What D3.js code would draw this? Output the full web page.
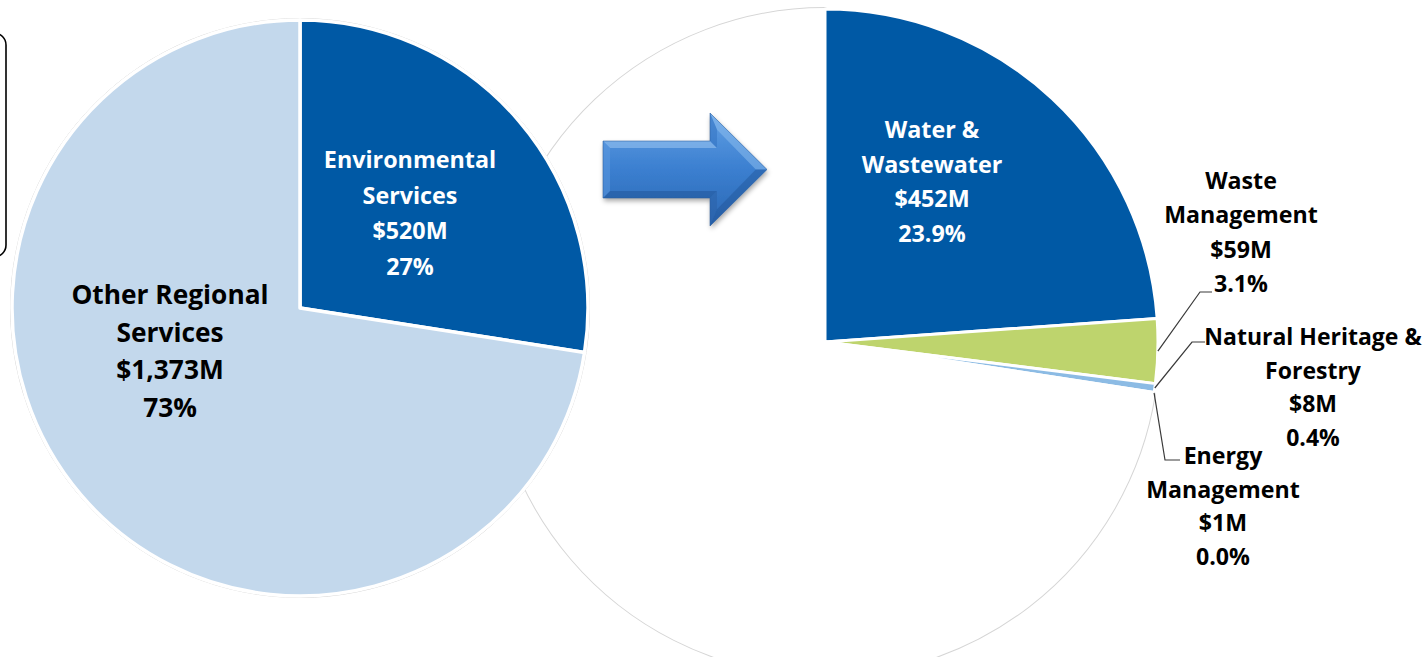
<!DOCTYPE html>
<html>
<head>
<meta charset="utf-8">
<script src="https://cdn.jsdelivr.net/npm/d3@7"></script>
<style>
  html, body { margin: 0; padding: 0; background: #ffffff; }
  svg { display: block; }
  text { font-family: "Open Sans", Lato, sans-serif; font-weight: 700; }
</style>
</head>
<body>
<svg id="chart" width="1428" height="657"></svg>
<script>
// Regional budget split ($ millions)
const overviewNames  = ["Environmental Services", "Other Regional Services"];
const overviewValues = [520, 1373];
const overviewPct    = ["27%", "73%"];

// Environmental Services broken down, shown against the full budget
const detailNames  = ["Water & Wastewater", "Waste Management", "Natural Heritage & Forestry", "Energy Management", "Other"];
const detailValues = [452, 59, 8, 1, 1373];
const detailPct    = ["23.9%", "3.1%", "0.4%", "0.0%", ""];

const fmtMoney = v => "$" + d3.format(",")(v) + "M";

const svg = d3.select("#chart");

const overviewColor = d3.scaleOrdinal().domain(overviewNames).range(["#0059a5", "#c3d8ec"]);
const detailColor = d3.scaleOrdinal().domain(detailNames)
  .range(["#0059a5", "#bed46d", "#8cbbe4", "#5f9bd1", "#ffffff"]);

const pie = d3.pie().sort(null).value(d => d.value);
const line = d3.line();

// ---------- right pie (drawn first, sits behind the left one) ----------
const right = { cx: 825, cy: 342, r: 333 };
const rightArc = d3.arc().innerRadius(0).outerRadius(right.r);
const detailData = pie(detailNames.map((n, i) => ({ name: n, value: detailValues[i], pct: detailPct[i] })));

const gR = svg.append("g").attr("transform", `translate(${right.cx},${right.cy})`);
// remainder slice: white with a soft double grey rim
const rest = detailData.filter(d => d.data.name === "Other");
gR.selectAll("path.rest-out").data(rest).join("path")
  .attr("d", rightArc).attr("fill", "#ffffff")
  .attr("stroke", "#d6d6d6").attr("stroke-width", 4).attr("stroke-linejoin", "round");
gR.selectAll("path.rest-in").data(rest).join("path")
  .attr("d", rightArc).attr("fill", "#ffffff")
  .attr("stroke", "#ffffff").attr("stroke-width", 2).attr("stroke-linejoin", "round");
gR.selectAll("path.slice").data(detailData.filter(d => d.data.name !== "Other")).join("path")
  .attr("class", "slice")
  .attr("d", rightArc)
  .attr("fill", d => detailColor(d.data.name))
  .attr("stroke", "#ffffff").attr("stroke-width", 3).attr("stroke-linejoin", "round");

// ---------- left pie ----------
const left = { cx: 300, cy: 308, r: 288 };
const leftArc = d3.arc().innerRadius(0).outerRadius(left.r);
const overviewData = pie(overviewNames.map((n, i) => ({ name: n, value: overviewValues[i], pct: overviewPct[i] })));

const gL = svg.append("g").attr("transform", `translate(${left.cx},${left.cy})`);
gL.append("circle").attr("r", left.r + 1.5).attr("fill", "none")
  .attr("stroke", "#d4d4d4").attr("stroke-width", 1);
gL.selectAll("path").data(overviewData).join("path")
  .attr("d", leftArc)
  .attr("fill", d => overviewColor(d.data.name))
  .attr("stroke", "#ffffff").attr("stroke-width", 3.5).attr("stroke-linejoin", "round");

// ---------- partially visible rounded text box at the left edge ----------
svg.append("rect")
  .attr("x", -300).attr("y", 33).attr("width", 306).attr("height", 224)
  .attr("rx", 12).attr("ry", 12)
  .attr("fill", "none").attr("stroke", "#000000").attr("stroke-width", 1.6);

// ---------- bevelled arrow between the pies ----------
const defs = svg.append("defs");
const grad = defs.append("linearGradient").attr("id", "arrowFill")
  .attr("x1", 0).attr("y1", 0).attr("x2", 0).attr("y2", 1);
grad.append("stop").attr("offset", "0%").attr("stop-color", "#62a0e4");
grad.append("stop").attr("offset", "50%").attr("stop-color", "#3b7fd0");
grad.append("stop").attr("offset", "100%").attr("stop-color", "#2b67b3");
const shadow = defs.append("filter").attr("id", "arrowShadow")
  .attr("x", "-20%").attr("y", "-20%").attr("width", "140%").attr("height", "150%");
shadow.append("feDropShadow").attr("dx", 1).attr("dy", 3).attr("stdDeviation", 2.5)
  .attr("flood-color", "#000").attr("flood-opacity", 0.35);

const arrow = { x0: 603, x1: 710, x2: 767, yTop: 113, yBot: 226, sTop: 141, sBot: 198 };
const yMid = (arrow.yTop + arrow.yBot) / 2;
const outer = [
  [arrow.x0, arrow.sTop], [arrow.x1, arrow.sTop], [arrow.x1, arrow.yTop],
  [arrow.x2, yMid], [arrow.x1, arrow.yBot], [arrow.x1, arrow.sBot], [arrow.x0, arrow.sBot]
];
const b = 7;
const inner = [
  [arrow.x0 + b, arrow.sTop + b], [arrow.x1 + b, arrow.sTop + b], [arrow.x1 + b, arrow.yTop + 2.4 * b],
  [arrow.x2 - 1.6 * b, yMid], [arrow.x1 + b, arrow.yBot - 2.4 * b], [arrow.x1 + b, arrow.sBot - b], [arrow.x0 + b, arrow.sBot - b]
];
const gA = svg.append("g");
gA.append("path").attr("d", line(outer) + "Z").attr("fill", "url(#arrowFill)")
  .attr("filter", "url(#arrowShadow)");
// bevel facets
const facet = (pts, fill, op) => gA.append("path").attr("d", line(pts) + "Z").attr("fill", fill).attr("opacity", op);
facet([outer[0], outer[1], inner[1], inner[0]], "#9cc7f2", 0.55);           // shaft top
facet([outer[6], outer[5], inner[5], inner[6]], "#1d4f92", 0.45);           // shaft bottom
facet([outer[0], inner[0], inner[6], outer[6]], "#5d9ae0", 0.5);            // shaft left
facet([outer[2], outer[3], inner[3], inner[2]], "#8fc0f0", 0.5);            // head upper
facet([outer[3], outer[4], inner[4], inner[3]], "#1d4f92", 0.4);            // head lower
facet([outer[1], outer[2], inner[2], inner[1]], "#2f6fbf", 0.5);            // head back top
facet([outer[4], outer[5], inner[5], inner[4]], "#2a5fa6", 0.5);            // head back bottom
gA.append("path").attr("d", line(outer) + "Z").attr("fill", "none")
  .attr("stroke", "#2b5f9f").attr("stroke-width", 0.8).attr("opacity", 0.7);

// ---------- labels ----------
function block(g, x, y, lines, size, gap, fill) {
  const t = g.append("text").attr("x", x).attr("y", y)
    .attr("text-anchor", "middle").attr("font-size", size).attr("fill", fill);
  lines.forEach((s, i) => t.append("tspan").attr("x", x).attr("dy", i === 0 ? 0 : gap).text(s));
  return t;
}
const splitName = {
  "Environmental Services": ["Environmental", "Services"],
  "Other Regional Services": ["Other Regional", "Services"],
  "Water & Wastewater": ["Water &", "Wastewater"],
  "Waste Management": ["Waste", "Management"],
  "Natural Heritage & Forestry": ["Natural Heritage &", "Forestry"],
  "Energy Management": ["Energy", "Management"]
};

// label anchor (first baseline) relative to each pie centre
const leftLabelPos = {
  "Environmental Services": { x: 110, y: -140, size: 23.3, gap: 35.5, fill: "#ffffff" },
  "Other Regional Services": { x: -130, y: -4, size: 26.3, gap: 37.5, fill: "#000000" }
};
overviewData.forEach(d => {
  const p = leftLabelPos[d.data.name];
  block(gL, p.x, p.y, [...splitName[d.data.name], fmtMoney(d.data.value), d.data.pct], p.size, p.gap, p.fill);
});

const rightLabelPos = {
  "Water & Wastewater": { x: 107, y: -204, size: 23.3, gap: 34.5, fill: "#ffffff" },
  "Waste Management": { x: 416, y: -153, size: 23.2, gap: 34.3, fill: "#000000" },
  "Natural Heritage & Forestry": { x: 488, y: 3, size: 23, gap: 33.5, fill: "#000000" },
  "Energy Management": { x: 398, y: 122, size: 23.2, gap: 33.5, fill: "#000000" }
};
detailData.filter(d => rightLabelPos[d.data.name]).forEach(d => {
  const p = rightLabelPos[d.data.name];
  block(gR, p.x, p.y, [...splitName[d.data.name], fmtMoney(d.data.value), d.data.pct], p.size, p.gap, p.fill);
});

// leader lines from the thin slices to their labels
const leaderEnds = {
  "Waste Management": [[375, -50], [387, -50]],
  "Natural Heritage & Forestry": [[367, 0], [380, 0]],
  "Energy Management": [[340, 118], [355, 118]]
};
detailData.filter(d => leaderEnds[d.data.name]).forEach(d => {
  const a = (d.startAngle + d.endAngle) / 2;
  const start = [Math.sin(a) * right.r, -Math.cos(a) * right.r];
  gR.append("path").attr("d", line([start, ...leaderEnds[d.data.name]])).attr("fill", "none")
    .attr("stroke", "#3a3a3a").attr("stroke-width", 1.2);
});
</script>
</body>
</html>
